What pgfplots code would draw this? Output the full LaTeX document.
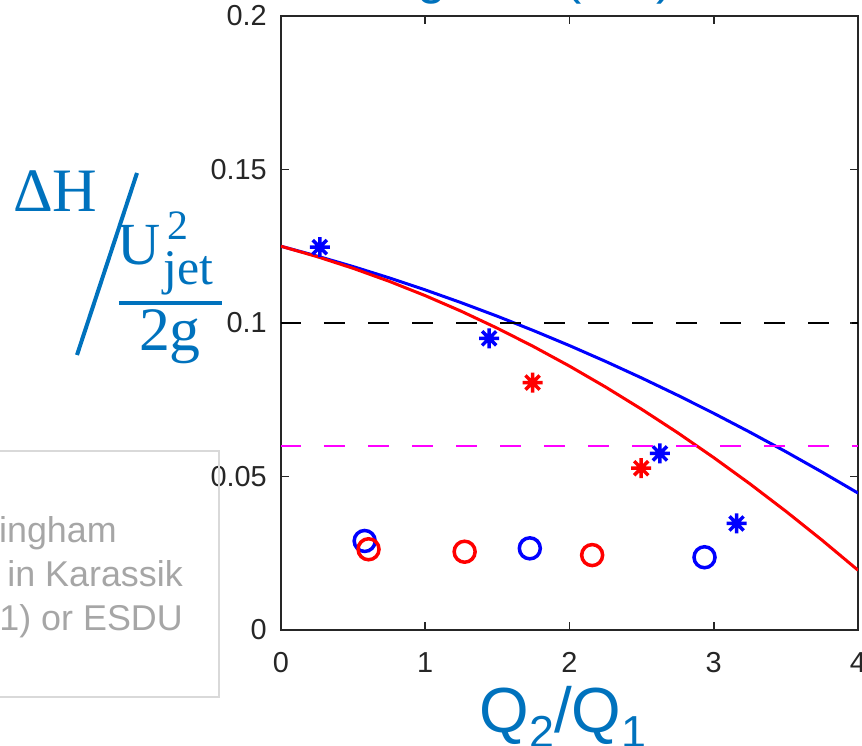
\documentclass[border=0pt]{standalone}
\usepackage{pgfplots}
\pgfplotsset{compat=1.18}
\usepackage{fontspec}
\setmainfont{Liberation Sans}
\newfontfamily\seriffont{Liberation Serif}
\definecolor{mblue}{RGB}{0,114,189}
\definecolor{axgray}{RGB}{38,38,38}
\definecolor{txtgray}{RGB}{166,166,166}
\definecolor{boxgray}{RGB}{217,217,217}
\definecolor{pblue}{RGB}{0,0,255}
\definecolor{pred}{RGB}{255,0,0}
\definecolor{pmag}{RGB}{255,0,255}
\pgfdeclareplotmark{mstar}{%
  \pgfpathmoveto{\pgfqpoint{0pt}{\pgfplotmarksize}}%
  \pgfpathlineto{\pgfqpoint{0pt}{-\pgfplotmarksize}}%
  \pgfpathmoveto{\pgfqpoint{\pgfplotmarksize}{0pt}}%
  \pgfpathlineto{\pgfqpoint{-\pgfplotmarksize}{0pt}}%
  \pgfpathmoveto{\pgfqpoint{.707\pgfplotmarksize}{.707\pgfplotmarksize}}%
  \pgfpathlineto{\pgfqpoint{-.707\pgfplotmarksize}{-.707\pgfplotmarksize}}%
  \pgfpathmoveto{\pgfqpoint{-.707\pgfplotmarksize}{.707\pgfplotmarksize}}%
  \pgfpathlineto{\pgfqpoint{.707\pgfplotmarksize}{-.707\pgfplotmarksize}}%
  \pgfusepathqstroke}
\begin{document}
\begin{tikzpicture}
\begin{axis}[
  at={(0,0)}, anchor=south west, scale only axis,
  width=577bp, height=614bp,
  xmin=0, xmax=4, ymin=0, ymax=0.2,
  xtick={0,1,2,3,4}, ytick={0,0.05,0.1,0.15,0.2},
  xticklabels={0,1,2,3,4},
  yticklabels={0,0.05,0.1,0.15,0.2},
  tick align=inside, major tick length=8bp,
  axis line style={axgray, line width=1.6bp},
  every tick/.style={axgray, line width=1.6bp},
  tick label style={font=\fontsize{29}{33}\selectfont, text=axgray, inner sep=0pt},
  xticklabel style={yshift=-22bp},
  yticklabel style={xshift=-14bp},
  /pgf/number format/assume math mode=true,
]
\addplot[pblue, line width=3bp] coordinates {
(0,0.12500) (0.25,0.12181) (0.5,0.11838) (0.75,0.11470) (1.0,0.11078)
(1.25,0.10661) (1.5,0.10220) (1.75,0.09754) (2.0,0.09264) (2.25,0.08749)
(2.5,0.08210) (2.75,0.07646) (3.0,0.07058) (3.25,0.06445) (3.5,0.05808)
(3.75,0.05146) (4.0,0.04460)};
\addplot[pred, line width=3bp] coordinates {
(0,0.12500) (0.25,0.12162) (0.5,0.11781) (0.75,0.11358) (1.0,0.10891)
(1.25,0.10382) (1.5,0.09829) (1.75,0.09234) (2.0,0.08596) (2.25,0.07915)
(2.5,0.07191) (2.75,0.06425) (3.0,0.05615) (3.25,0.04763) (3.5,0.03867)
(3.75,0.02929) (4.0,0.01948)};
\addplot[black, line width=2bp, dash pattern=on 21bp off 23bp, dash phase=1bp] coordinates {(0,0.1) (4,0.1)};
\addplot[pmag, line width=1.8bp, dash pattern=on 21bp off 23bp, dash phase=1bp] coordinates {(0,0.06) (4,0.06)};
\addplot[only marks, pblue, line width=3.5bp, mark=mstar, mark size=10bp, mark options={line width=3.5bp, solid}] coordinates {(0.269,0.1247) (1.443,0.0950) (2.627,0.0575) (3.158,0.0347)};
\addplot[only marks, pred, line width=3.5bp, mark=mstar, mark size=10bp, mark options={line width=3.5bp, solid}] coordinates {(1.744,0.0806) (2.497,0.0527)};
\addplot[only marks, pblue, line width=3.5bp, mark=o, mark size=10.5bp, mark options={line width=3.5bp, solid}] coordinates {(0.580,0.0290) (1.725,0.0266) (2.936,0.0237)};
\addplot[only marks, pred, line width=3.5bp, mark=o, mark size=10.5bp, mark options={line width=3.5bp, solid}] coordinates {(0.607,0.0263) (1.273,0.0255) (2.157,0.0244)};
\end{axis}
% y label
\node[anchor=base west, inner sep=0, text=mblue, font=\seriffont\fontsize{62}{62}\selectfont] at (-268bp,418bp) {ΔH};
\draw[mblue, line width=4bp] (-144bp,457bp) -- (-204bp,275bp);
\draw[mblue, line width=3.5bp] (-162bp,327bp) -- (-59bp,327bp);
\node[anchor=base west, inner sep=0, text=mblue, font=\seriffont\fontsize{60}{60}\selectfont] at (-164bp,365bp) {U};
\node[anchor=base west, inner sep=0, text=mblue, font=\seriffont\fontsize{42}{42}\selectfont] at (-114bp,390bp) {2};
\node[anchor=base west, inner sep=0, text=mblue, font=\seriffont\fontsize{50}{50}\selectfont] at (-118bp,345bp) {jet};
\node[anchor=base, inner sep=0, text=mblue, font=\seriffont\fontsize{62}{62}\selectfont] at (-111bp,279bp) {2g};
% x label
\node[anchor=base, inner sep=0, text=mblue, font=\fontsize{64}{64}\selectfont] at (282bp,-102bp) {Q\raisebox{-15bp}{\fontsize{45}{45}\selectfont 2}/Q\raisebox{-15bp}{\fontsize{45}{45}\selectfont 1}};
% title (mostly above the page)
\node[anchor=base east, inner sep=0, text=mblue, font=\fontsize{52}{52}\selectfont] at (272bp,636bp) {Jet Mixing with};
\node[anchor=base west, inner sep=0, text=mblue, font=\fontsize{52}{52}\selectfont] at (283bp,636bp) {(CD)};
% text box
\draw[boxgray, line width=1.3bp] (-330bp,179bp) rectangle (-62bp,-67bp);
\node[anchor=base east, inner sep=0, text=txtgray, font=\fontsize{36}{43}\selectfont] at (-164bp,87bp) {Theory: Cunningham};
\node[anchor=base east, inner sep=0, text=txtgray, font=\fontsize{36}{43}\selectfont] at (-98bp,43bp) {(1957) in Karassik};
\node[anchor=base east, inner sep=0, text=txtgray, font=\fontsize{36}{43}\selectfont] at (-98bp,0bp) {(2001) or ESDU};
\pgfresetboundingbox
\useasboundingbox (-281bp,-116bp) rectangle (581bp,630bp);
\end{tikzpicture}
\end{document}
